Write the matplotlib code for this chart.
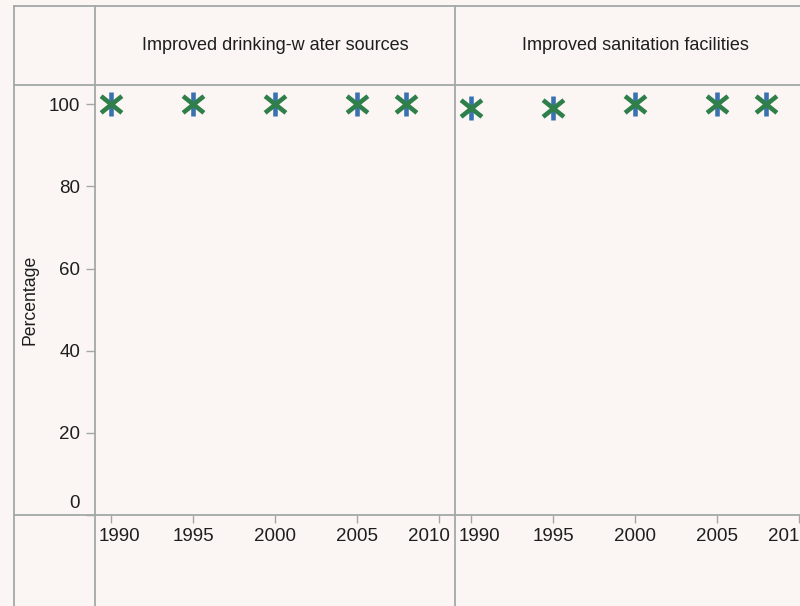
import matplotlib
matplotlib.use("Agg")
import matplotlib.pyplot as plt
from matplotlib.lines import Line2D
from matplotlib.path import Path
from matplotlib.transforms import ScaledTranslation

plt.rcParams['font.family'] = ['Liberation Sans', 'DejaVu Sans']

years = [1990, 1995, 2000, 2005, 2008]
water = [100, 100, 100, 100, 100]
sanitation = [99, 99, 100, 100, 100]
panel_titles = ["Improved drinking-w ater sources", "Improved sanitation facilities"]
xticks = [1990, 1995, 2000, 2005, 2010]
yticks = [0, 20, 40, 60, 80, 100]

BG = "#fbf6f4"
GRID = "#a3a8a6"
TXT = "#1e1e1e"
W, H = 800, 606

# asterisk marker: blue vertical stroke, green diagonals
vbar = Path([(0, -1), (0, 1)], [Path.MOVETO, Path.LINETO])
diag = Path([(-1, -0.8), (1, 0.8), (-1, 0.8), (1, -0.8)],
            [Path.MOVETO, Path.LINETO, Path.MOVETO, Path.LINETO])

fig = plt.figure(figsize=(8, 6.06), dpi=100, facecolor=BG)

def fx(px):
    return px / W

def fy(py):
    return 1 - py / H

# table frame lines (pixel coords of the layout)
frame = [
    ((14, 14), (6, 606)),
    ((95, 95), (6, 606)),
    ((455, 455), (6, 606)),
    ((14, 800), (6, 6)),
    ((14, 800), (85, 85)),
    ((14, 800), (515, 515)),
]
for xs, ys in frame:
    fig.add_artist(Line2D([fx(x) for x in xs], [fy(y) for y in ys],
                          color=GRID, lw=1.3, transform=fig.transFigure))

panels = [(95, water), (455, sanitation)]
for i, (left, vals) in enumerate(panels):
    ax = fig.add_axes([fx(left), fy(515), 360 / W, (515 - 85) / H])
    ax.set_facecolor("none")
    for s in ax.spines.values():
        s.set_visible(False)
    ax.set_xlim(1989, 2011)
    ax.set_ylim(0, 104.7)
    ax.plot(years, vals, ls="none", marker=vbar, ms=17, mew=3.3,
            color="#3a72b0", clip_on=False)
    ax.plot(years, vals, ls="none", marker=diag, ms=15, mew=3.3,
            color="#2f7f4a", clip_on=False)
    ax.set_xticks(xticks)
    ax.set_xticklabels([str(t) for t in xticks], fontsize=13.5, color=TXT)
    ax.tick_params(axis="x", length=5.8, width=1, color=GRID, pad=3.5)
    # end labels are pushed inside the cell
    lbls = ax.get_xticklabels()
    shifts = {0: 8, len(lbls) - 1: -10}
    for k, dx in shifts.items():
        lbls[k].set_transform(lbls[k].get_transform()
                              + ScaledTranslation(dx / 100, 0, fig.dpi_scale_trans))
    if i == 0:
        ax.set_yticks(yticks)
        ax.set_yticklabels([""] + [str(t) for t in yticks[1:]],
                           fontsize=13.5, color=TXT)
        ax.tick_params(axis="y", length=6.5, width=1, color=GRID, pad=4)
        ax.annotate("0", xy=(0, 0), xycoords=("axes fraction", "data"),
                    xytext=(-15, 12), textcoords="offset pixels",
                    ha="right", va="center", fontsize=13.5, color=TXT)
        ax.set_ylabel("Percentage", fontsize=12.7, color=TXT)
        ax.yaxis.set_label_coords((38 - 95) / 360, 0.5)
    else:
        ax.set_yticks([])
    fig.text(fx(left + 180), fy(45), panel_titles[i], ha="center", va="center",
             fontsize=13, color=TXT)

fig.savefig("out.png", dpi=100, facecolor=BG)
